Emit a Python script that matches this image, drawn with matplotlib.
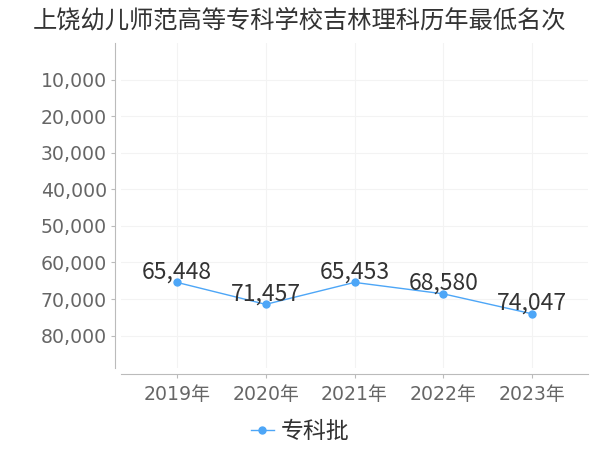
import matplotlib
matplotlib.use("Agg")
import matplotlib.pyplot as plt
from matplotlib.ticker import FuncFormatter

plt.rcParams['font.family'] = ['DejaVu Sans', 'Noto Sans CJK SC']
CJK = ['Noto Sans CJK SC', 'DejaVu Sans']

title = "上饶幼儿师范高等专科学校吉林理科历年最低名次"
years = ["2019年", "2020年", "2021年", "2022年", "2023年"]
values = [65448, 71457, 65453, 68580, 74047]
series_name = "专科批"
yticks = [10000, 20000, 30000, 40000, 50000, 60000, 70000, 80000]

color = "#4da6f7"

fig = plt.figure(figsize=(6, 4.5), dpi=100)
ax = fig.add_axes([121/600, 1 - 368/450, (588-121)/600, (368-43)/450])

x = list(range(len(years)))
ax.plot(x, values, color=color, lw=1.0, marker='o', markersize=5, label=series_name, zorder=3)

for xi, v in zip(x, values):
    ax.annotate(f"{v:,}", (xi, v), xytext=(0, 3), textcoords='offset points',
                ha='center', va='baseline', fontsize=16.5, color='#333333',
                family=CJK, zorder=4)

ax.set_xlim(-0.63, len(years) - 1 + 0.63)
ax.set_ylim(max(values) * 1.2, 0)
ax.set_yticks(yticks)
ax.yaxis.set_major_formatter(FuncFormatter(lambda v, p: f"{int(v):,}"))
ax.set_xticks(x)
ax.set_xticklabels(years)

ax.tick_params(axis='y', labelsize=13.6, labelcolor='#666666', color='#bbbbbb', length=3, width=0.8, pad=3)
ax.tick_params(axis='x', labelsize=13.6, labelcolor='#666666', color='#bbbbbb', length=3, width=0.8, pad=5)

ax.grid(True, color='#f3f3f3', lw=0.8)
ax.set_axisbelow(True)
for s in ['top', 'right']:
    ax.spines[s].set_visible(False)
ax.spines['left'].set_position(('outward', 4))
ax.spines['bottom'].set_position(('outward', 4))
ax.spines['left'].set_color('#bbbbbb')
ax.spines['bottom'].set_color('#bbbbbb')

fig.text(0.5, 0.955, title, ha='center', va='center', fontsize=17.5, color='#333333', family=CJK)

leg = fig.legend(loc='center', bbox_to_anchor=(0.5, 1 - 432/450), frameon=False,
                 prop={'family': CJK, 'size': 16.5}, handlelength=1.0, handletextpad=0.3,
                 labelcolor='#333333')

fig.savefig("out.png", dpi=100)
